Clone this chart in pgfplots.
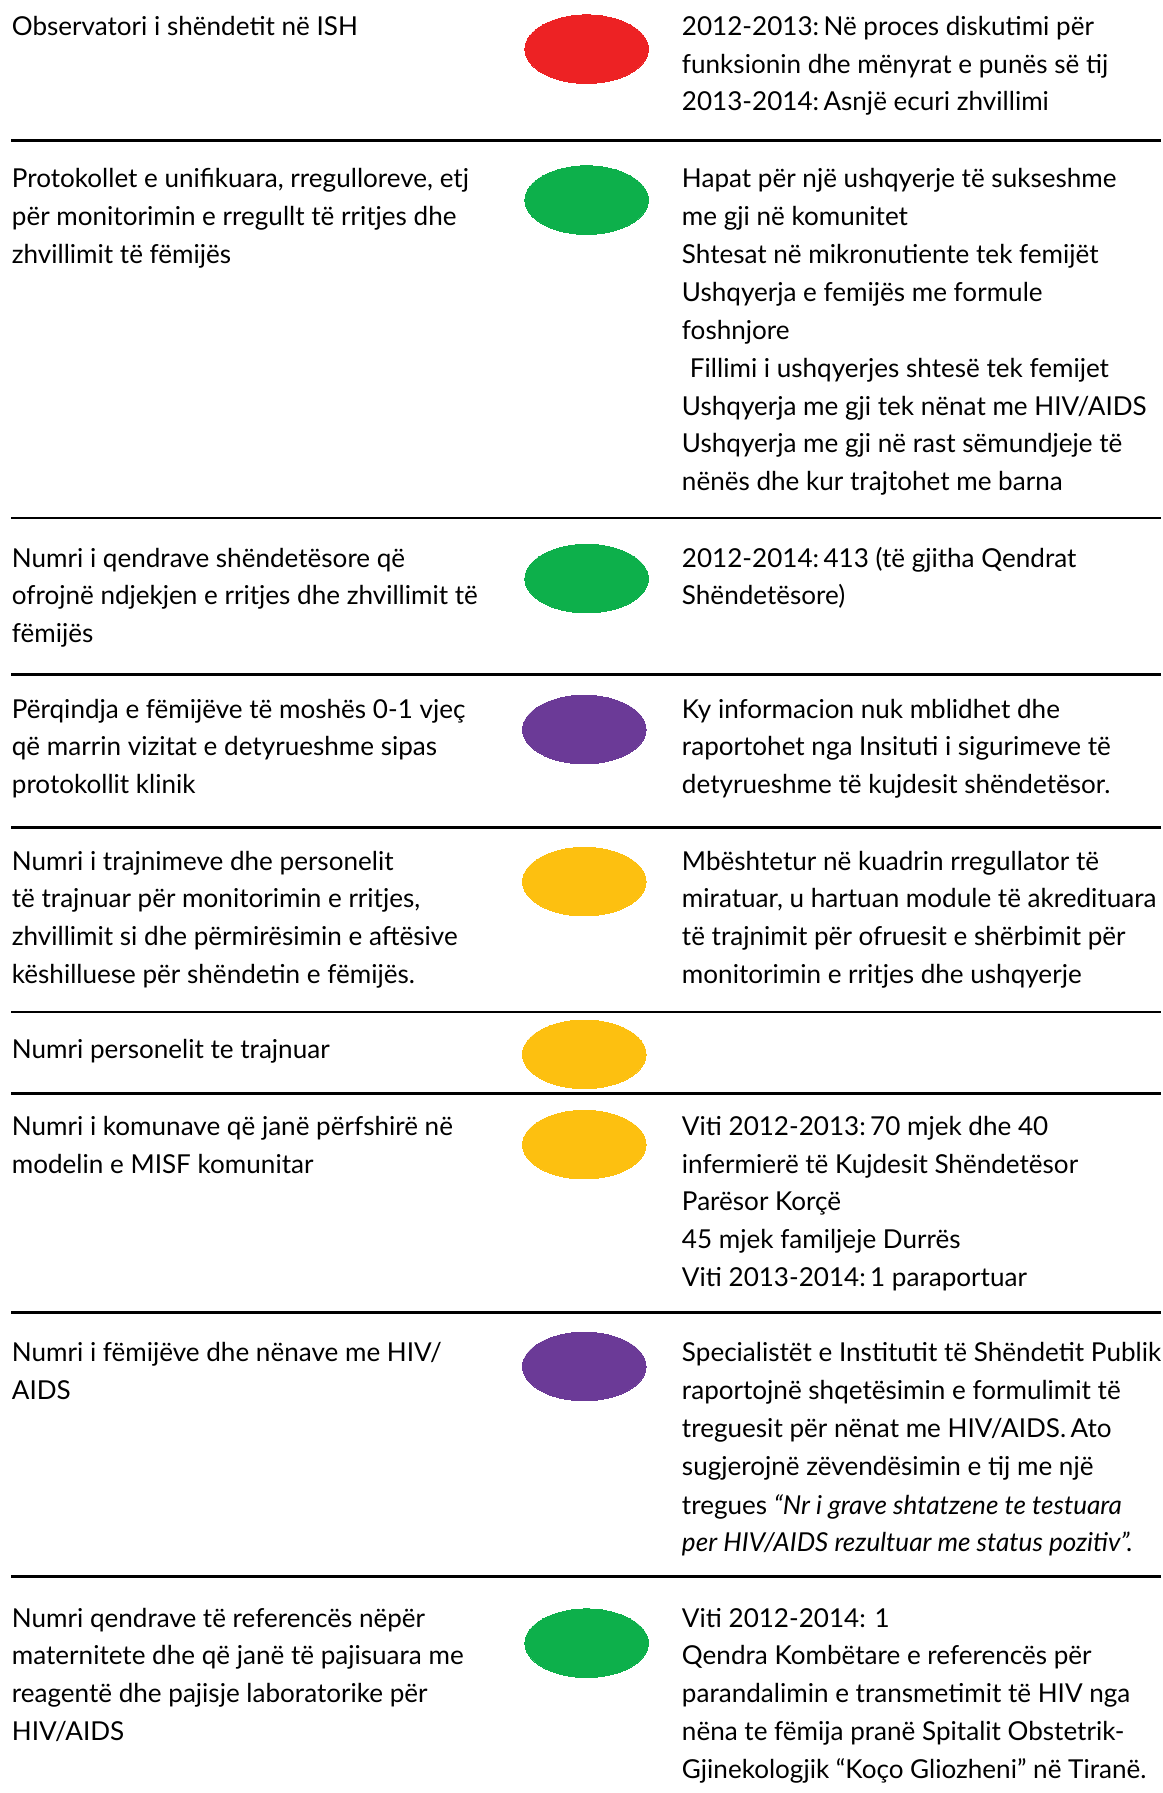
\documentclass[border=0pt]{standalone}
\usepackage{fontspec}
\setmainfont{Lato}
\usepackage{pgfplots}
\pgfplotsset{compat=1.18}
\definecolor{cred}{HTML}{ED2224}
\definecolor{cgreen}{HTML}{0DB04B}
\definecolor{cpurple}{HTML}{6B3A97}
\definecolor{cyellow}{HTML}{FDC010}
\newcommand{\T}[3]{\node[anchor=base west,inner sep=0pt,font=\fontsize{11.4}{13}\selectfont] at (axis cs:#1,#2) {#3};}
\newcommand{\HL}[1]{\addplot[black,line width=1.3pt] coordinates {(10,#1) (1015,#1)};}
\pgfplotsset{ell/.style={color=#1, only marks, mark=*, mark size=15pt, mark options={xscale=1.8, fill=#1, draw=#1, line width=0pt}}}
\begin{document}
\begin{tikzpicture}
\begin{axis}[
  scale only axis, width=508.5pt, height=784pt,
  xmin=0, xmax=1017, ymin=0, ymax=1568, y dir=reverse,
  hide axis, clip=false,
]
% status ellipses
\addplot[ell=cred] coordinates {(513,43)};
\addplot[ell=cgreen] coordinates {(513,175) (513,506) (513,1437)};
\addplot[ell=cpurple] coordinates {(511,638) (511,1195)};
\addplot[ell=cyellow] coordinates {(511,771) (511,922) (511,1001)};
% separators
\HL{123}\HL{453}\HL{590}\HL{724}\HL{885}\HL{956}\HL{1148}\HL{1379}
% row 1
\T{10}{31}{Observatori i shëndetit në ISH}
\T{596}{31}{2012-2013:\,Në proces diskutimi për}
\T{596}{64}{funksionin dhe mënyrat e punës së tij}
\T{596}{97}{2013-2014:\,Asnjë ecuri zhvillimi}
% row 2
\T{10}{164}{Protokollet e unifikuara, rregulloreve, etj}
\T{10}{197}{për monitorimin e rregullt të rritjes dhe}
\T{10}{230}{zhvillimit të fëmijës}
\T{596}{164}{Hapat për një ushqyerje të sukseshme}
\T{596}{197}{me gji në komunitet}
\T{596}{230}{Shtesat në mikronutiente tek femijët}
\T{596}{264}{Ushqyerja e femijës me formule}
\T{596}{297}{foshnjore}
\T{603}{330}{Fillimi i ushqyerjes shtesë tek femijet}
\T{596}{363}{Ushqyerja me gji tek nënat me HIV/AIDS}
\T{596}{396}{Ushqyerja me gji në rast sëmundjeje të}
\T{596}{429}{nënës dhe kur trajtohet me barna}
% row 3
\T{10}{496}{Numri i qendrave shëndetësore që}
\T{10}{529}{ofrojnë ndjekjen e rritjes dhe zhvillimit të}
\T{10}{562}{fëmijës}
\T{596}{496}{2012-2014:\,413 (të gjitha Qendrat}
\T{596}{529}{Shëndetësore)}
% row 4
\T{10}{628}{Përqindja e fëmijëve të moshës 0-1 vjeç}
\T{10}{661}{që marrin vizitat e detyrueshme sipas}
\T{10}{694}{protokollit klinik}
\T{596}{628}{Ky informacion nuk mblidhet dhe}
\T{596}{661}{raportohet nga Insituti i sigurimeve të}
\T{596}{694}{detyrueshme të kujdesit shëndetësor.}
% row 5
\T{10}{761}{Numri i trajnimeve dhe personelit}
\T{10}{794}{të trajnuar për monitorimin e rritjes,}
\T{10}{827}{zhvillimit si dhe përmirësimin e aftësive}
\T{10}{860}{këshilluese për shëndetin e fëmijës.}
\T{596}{761}{Mbështetur në kuadrin rregullator të}
\T{596}{794}{miratuar, u hartuan module të akredituara}
\T{596}{827}{të trajnimit për ofruesit e shërbimit për}
\T{596}{860}{monitorimin e rritjes dhe ushqyerje}
% row 6
\T{10}{926}{Numri personelit te trajnuar}
% row 7
\T{10}{993}{Numri i komunave që janë përfshirë në}
\T{10}{1026}{modelin e MISF komunitar}
\T{596}{993}{Viti 2012-2013:\,70 mjek dhe 40}
\T{596}{1026}{infermierë të Kujdesit Shëndetësor}
\T{596}{1059}{Parësor Korçë}
\T{596}{1092}{45 mjek familjeje Durrës}
\T{596}{1125}{Viti 2013-2014:\,1 paraportuar}
% row 8
\T{10}{1191}{Numri i fëmijëve dhe nënave me HIV/}
\T{10}{1224}{AIDS}
\T{596}{1191}{Specialistët e Institutit të Shëndetit Publik}
\T{596}{1224}{raportojnë shqetësimin e formulimit të}
\T{596}{1257}{treguesit për nënat me HIV/AIDS.\,Ato}
\T{596}{1290}{sugjerojnë zëvendësimin e tij me një}
\T{596}{1324}{tregues \textit{“Nr i grave shtatzene te testuara}}
\T{596}{1357}{\textit{per HIV/AIDS rezultuar me status pozitiv”.}}
% row 9
\T{10}{1423}{Numri qendrave të referencës nëpër}
\T{10}{1456}{maternitete dhe që janë të pajisuara me}
\T{10}{1489}{reagentë dhe pajisje laboratorike për}
\T{10}{1522}{HIV/AIDS}
\T{596}{1423}{Viti 2012-2014: 1}
\T{596}{1456}{Qendra Kombëtare e referencës për}
\T{596}{1489}{parandalimin e transmetimit të HIV nga}
\T{596}{1522}{nëna te fëmija pranë Spitalit Obstetrik-}
\T{596}{1555}{Gjinekologjik “Koço Gliozheni” në Tiranë.}
\end{axis}
\pgfresetboundingbox
\useasboundingbox (current axis.south west) rectangle (current axis.north east);
\end{tikzpicture}
\end{document}
